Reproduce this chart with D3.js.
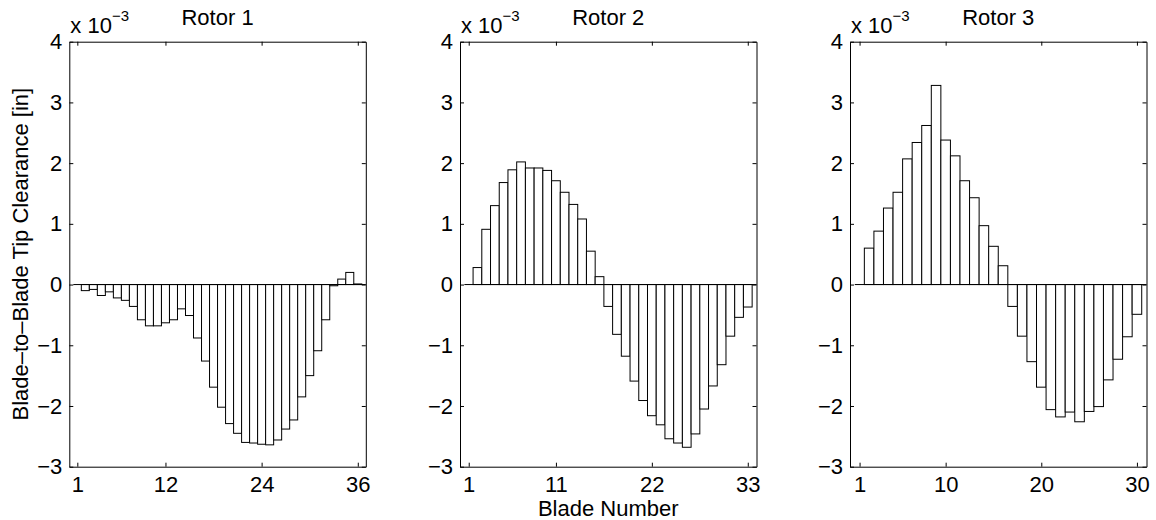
<!DOCTYPE html>
<html>
<head>
<meta charset="utf-8">
<script src="https://cdn.jsdelivr.net/npm/d3@7"></script>
<style>
  body { margin: 0; background: #fff; }
  text { font-family: "Liberation Sans", Arial, Helvetica, sans-serif; fill: #000; }
</style>
</head>
<body>
<svg id="chart" width="1156" height="520"></svg>
<script>
// Blade-to-blade tip clearance per rotor, in units of 1e-3 inch
const rotorTitles = ["Rotor 1", "Rotor 2", "Rotor 3"];

const rotor1Clearance = [
  0.00, -0.10, -0.08, -0.18, -0.12, -0.22, -0.26, -0.36, -0.58, -0.68,
  -0.68, -0.63, -0.58, -0.40, -0.51, -0.88, -1.26, -1.69, -2.02, -2.29,
  -2.45, -2.60, -2.61, -2.63, -2.64, -2.56, -2.38, -2.23, -1.85, -1.50,
  -1.09, -0.58, -0.02, 0.09, 0.20, 0.01
];

const rotor2Clearance = [
  0.00, 0.28, 0.91, 1.30, 1.68, 1.89, 2.02, 1.92, 1.92, 1.88,
  1.71, 1.52, 1.32, 1.08, 0.55, 0.13, -0.36, -0.82, -1.18, -1.59,
  -1.91, -2.16, -2.31, -2.54, -2.61, -2.68, -2.46, -2.05, -1.67, -1.32,
  -0.85, -0.54, -0.37
];

const rotor3Clearance = [
  0.00, 0.60, 0.88, 1.26, 1.52, 2.07, 2.34, 2.62, 3.28, 2.38,
  2.12, 1.71, 1.43, 0.97, 0.63, 0.31, -0.36, -0.85, -1.27, -1.69,
  -2.06, -2.18, -2.10, -2.26, -2.09, -2.01, -1.57, -1.23, -0.86, -0.49
];

const rotor1Ticks = [1, 12, 24, 36];
const rotor2Ticks = [1, 11, 22, 33];
const rotor3Ticks = [1, 10, 20, 30];
const yTicks = [-3, -2, -1, 0, 1, 2, 3, 4];
const yDomain = [-3, 4];

const rotors = [
  { title: rotorTitles[0], values: rotor1Clearance, ticks: rotor1Ticks },
  { title: rotorTitles[1], values: rotor2Clearance, ticks: rotor2Ticks },
  { title: rotorTitles[2], values: rotor3Clearance, ticks: rotor3Ticks }
];

const svg = d3.select("#chart");
const panelLeft = [69.3, 460, 850];
const panelWidth = 296.5;
const plotTop = 41.7, plotHeight = 425;
const fontSize = 22;
const tickLen = 4;
const intFormat = d3.format("d");

function styleAxis(g) {
  g.attr("font-family", null).attr("font-size", fontSize).attr("color", "#000");
  g.selectAll("path, line").attr("stroke", "#000").attr("stroke-width", 1);
}

rotors.forEach((r, i) => {
  const left = panelLeft[i];
  const n = r.values.length;
  const x = d3.scaleLinear().domain([0, n + 1]).range([left, left + panelWidth]);
  const y = d3.scaleLinear().domain(yDomain).range([plotTop + plotHeight, plotTop]);
  const blades = d3.range(1, n + 1);

  const g = svg.append("g");

  // bars: unit-width, touching, white fill with black outline
  g.append("g").selectAll("rect")
    .data(blades)
    .join("rect")
    .attr("x", b => x(b - 0.5))
    .attr("width", b => x(b + 0.5) - x(b - 0.5))
    .attr("y", b => y(Math.max(0, r.values[b - 1])))
    .attr("height", b => Math.abs(y(r.values[b - 1]) - y(0)))
    .attr("fill", "#fff")
    .attr("stroke", "#000")
    .attr("stroke-width", 1);

  // zero baseline
  g.append("line")
    .attr("x1", x(0.5)).attr("x2", x(n + 1))
    .attr("y1", y(0)).attr("y2", y(0))
    .attr("stroke", "#000").attr("stroke-width", 1);

  // axes with inward ticks on all four sides
  g.append("g")
    .attr("transform", `translate(${left},0)`)
    .call(d3.axisLeft(y).tickValues(yTicks).tickFormat(intFormat)
      .tickSizeInner(-tickLen).tickSizeOuter(0).tickPadding(7))
    .call(styleAxis);

  g.append("g")
    .attr("transform", `translate(${left + panelWidth},0)`)
    .call(d3.axisRight(y).tickValues(yTicks).tickSizeInner(-tickLen).tickSizeOuter(0).tickFormat(""))
    .call(styleAxis);

  g.append("g")
    .attr("transform", `translate(0,${plotTop + plotHeight})`)
    .call(d3.axisBottom(x).tickValues(r.ticks).tickFormat(intFormat)
      .tickSizeInner(-tickLen).tickSizeOuter(0).tickPadding(9.5))
    .call(styleAxis);

  g.append("g")
    .attr("transform", `translate(0,${plotTop})`)
    .call(d3.axisTop(x).tickValues(r.ticks).tickSizeInner(-tickLen).tickSizeOuter(0).tickFormat(""))
    .call(styleAxis);

  // title
  g.append("text")
    .attr("x", left + panelWidth / 2)
    .attr("y", 24.5)
    .attr("text-anchor", "middle")
    .attr("font-size", fontSize)
    .text(r.title);

  // axis multiplier
  const mult = g.append("text")
    .attr("x", left + 1)
    .attr("y", 33)
    .attr("font-size", fontSize);
  mult.append("tspan").text("x 10");
  mult.append("tspan").attr("font-size", 15).attr("dy", -12).text("\u22123");
});

// shared labels
svg.append("text")
  .attr("x", (panelLeft[1] + panelLeft[1] + panelWidth) / 2)
  .attr("y", 516)
  .attr("text-anchor", "middle")
  .attr("font-size", fontSize)
  .text("Blade Number");

svg.append("text")
  .attr("transform", `translate(27.5,${plotTop + plotHeight / 2}) rotate(-90)`)
  .attr("text-anchor", "middle")
  .attr("font-size", fontSize)
  .text("Blade\u2013to\u2013Blade Tip Clearance [in]");
</script>
</body>
</html>
